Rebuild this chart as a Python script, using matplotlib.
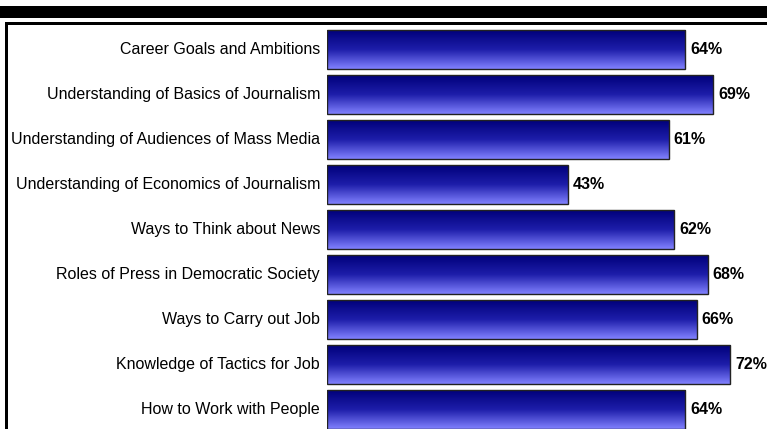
import matplotlib
matplotlib.use("Agg")
import matplotlib.pyplot as plt
import numpy as np
from matplotlib.colors import LinearSegmentedColormap
from matplotlib.patches import Rectangle

plt.rcParams['font.family'] = ['Liberation Sans', 'DejaVu Sans']

categories = [
    "Career Goals and Ambitions",
    "Understanding of Basics of Journalism",
    "Understanding of Audiences of Mass Media",
    "Understanding of Economics of Journalism",
    "Ways to Think about News",
    "Roles of Press in Democratic Society",
    "Ways to Carry out Job",
    "Knowledge of Tactics for Job",
    "How to Work with People",
]
values = [64, 69, 61, 43, 62, 68, 66, 72, 64]
value_labels = ["64%", "69%", "61%", "43%", "62%", "68%", "66%", "72%", "64%"]

W, H = 767, 429
fig = plt.figure(figsize=(W / 100, H / 100), dpi=100)
fig.patch.set_facecolor("white")

# decorative top band and frame
fig.patches.append(Rectangle((0, 1 - 18 / H), 1, 12 / H, transform=fig.transFigure,
                             facecolor="black", edgecolor="none", zorder=0))
fig.patches.append(Rectangle((5 / W, 1 - 25 / H), 1, 3 / H, transform=fig.transFigure,
                             facecolor="black", edgecolor="none", zorder=0))
fig.patches.append(Rectangle((5 / W, 0), 3 / W, 1 - 22 / H, transform=fig.transFigure,
                             facecolor="black", edgecolor="none", zorder=0))

ax_left, ax_top, ax_bottom = 327, 27, 429
ax = fig.add_axes([ax_left / W, 1 - ax_bottom / H, (W - ax_left) / W, (ax_bottom - ax_top) / H])
ax.set_facecolor("none")
px_per_unit = 5.6
row = 45.0
ax.axis("off")

cmap = LinearSegmentedColormap.from_list("bluegrad", ["#00007a", "#1e1eaa", "#8282ff"])
grad = np.linspace(0, 1, 256).reshape(-1, 1)

y = np.arange(len(categories))
bars = ax.barh(y, values, height=39 / row, color="none", edgecolor="#222222",
               linewidth=1.0, zorder=3)
for b in bars:
    x0, y0 = b.get_x(), b.get_y()
    w, h = b.get_width(), b.get_height()
    im = ax.imshow(grad, cmap=cmap, aspect="auto", extent=(x0, x0 + w, y0 + h, y0),
                   zorder=2, interpolation="bilinear")
    im.set_clip_path(b)

for i, (lab, v, vl) in enumerate(zip(categories, values, value_labels)):
    ax.annotate(lab, (0, i), xytext=(-5, 0), textcoords="offset points",
                ha="right", va="center", fontsize=11.5, color="black", annotation_clip=False)
    ax.annotate(vl, (v, i), xytext=(3.5, 0), textcoords="offset points",
                ha="left", va="center", fontsize=11.5, fontweight="bold", color="black",
                annotation_clip=False)

ax.set_xlim(0, (W - ax_left) / px_per_unit)
ax.set_ylim(-0.5 + (ax_bottom - ax_top) / row, -0.5)
fig.savefig("out.png", dpi=100)
